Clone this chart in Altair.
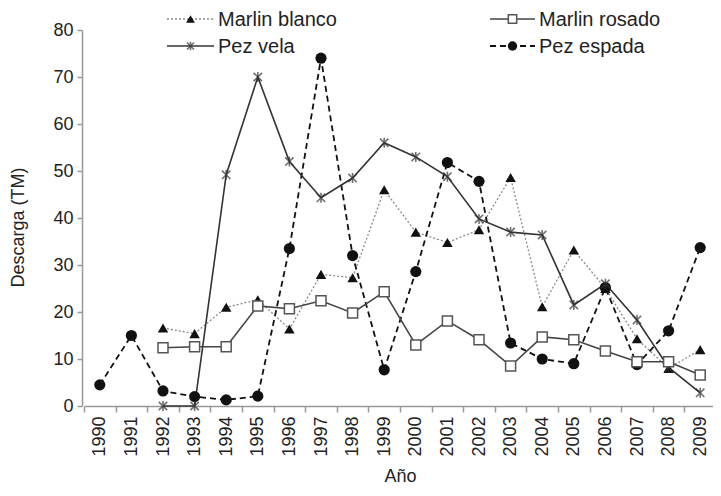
import altair as alt
import pandas as pd

years = [str(y) for y in range(1990, 2010)]

marlin_blanco = [None, None, 16.6, 15.4, 21.0, 22.6, 16.4, 28.0, 27.3, 46.0,
                 37.0, 34.8, 37.5, 48.6, 21.1, 33.2, 25.0, 14.3, 8.0, 12.0]
marlin_rosado = [None, None, 12.4, 12.6, 12.6, 21.3, 20.7, 22.4, 19.8, 24.3,
                 13.0, 18.1, 14.1, 8.5, 14.7, 14.1, 11.7, 9.4, 9.4, 6.6]
pez_vela = [None, None, 0.0, 0.0, 49.2, 70.0, 52.0, 44.3, 48.5, 56.0,
            53.0, 48.8, 39.8, 37.0, 36.4, 21.5, 26.0, 18.3, 8.2, 2.8]
pez_espada = [4.5, 15.0, 3.2, 2.0, 1.3, 2.1, 33.5, 74.0, 32.0, 7.7,
              28.6, 51.8, 47.8, 13.4, 10.0, 9.0, 25.2, 8.8, 16.0, 33.7]

series_names = ["Marlin blanco", "Marlin rosado", "Pez vela", "Pez espada"]
series_values = [marlin_blanco, marlin_rosado, pez_vela, pez_espada]

rows = []
for name, vals in zip(series_names, series_values):
    for y, v in zip(years, vals):
        if v is not None:
            rows.append({"year": y, "value": v, "series": name})
df = pd.DataFrame(rows)

FONT = "Liberation Sans"
ASTER = "M -1 -1 L 1 1 M 1 -1 L -1 1 M 0 -1.2 L 0 1.2"

styles = {
    "Marlin blanco": dict(line=dict(color="#8a8a8a", strokeWidth=1.3, strokeDash=[2, 2]),
                          point=dict(shape="triangle-up", filled=True, color="#111", size=110, opacity=1)),
    "Marlin rosado": dict(line=dict(color="#444", strokeWidth=1.6),
                          point=dict(shape="square", filled=True, fill="white", stroke="#555",
                                     strokeWidth=1.5, size=100, opacity=1)),
    "Pez vela": dict(line=dict(color="#333", strokeWidth=1.6),
                     point=dict(shape=ASTER, filled=False, color="#333", strokeWidth=1.6, size=70)),
    "Pez espada": dict(line=dict(color="#111", strokeWidth=1.8, strokeDash=[6, 4]),
                       point=dict(shape="circle", filled=True, color="#111", size=125, opacity=1)),
}

RANGE_W = 632

xenc = alt.X(
    "year:O",
    bandPosition=0.5,
    scale=alt.Scale(type="band", range=[0, RANGE_W], paddingInner=0, paddingOuter=0),
    axis=alt.Axis(
        title="Año", tickBand="extent", labelAngle=-90, labelFontSize=18, labelFont=FONT,
        labelColor="#222", labelPadding=4, domainColor="#999", tickColor="#999",
        domainWidth=1.5, tickWidth=1.5, tickSize=6, titleFont=FONT, titleFontSize=18,
        titleFontWeight="normal", titleColor="#222", titleX=RANGE_W / 2, titleY=70,
        titleBaseline="middle", titleAlign="center",
    ),
)
yenc = alt.Y(
    "value:Q",
    scale=alt.Scale(domain=[0, 80], nice=False),
    axis=alt.Axis(
        title="Descarga (TM)", values=list(range(0, 81, 10)), grid=False, offset=2,
        labelFontSize=18, labelFont=FONT, labelColor="#222", labelPadding=4,
        domainColor="#999", tickColor="#999", domainWidth=1.5, tickWidth=1.5, tickSize=5,
        titleFont=FONT, titleFontSize=18, titleFontWeight="normal", titleColor="#222",
        titleX=-64, titleY=197, titleAngle=-90, titleBaseline="middle", titleAlign="center",
    ),
)

base = alt.Chart(df)
layers = []
order = ["Marlin blanco", "Pez espada", "Pez vela", "Marlin rosado"]
for name in order:
    st = styles[name]
    layers.append(
        base.transform_filter(alt.datum.series == name)
        .mark_line(**st["line"]).encode(x=xenc, y=yenc)
    )
for name in order:
    st = styles[name]
    layers.append(
        base.transform_filter(alt.datum.series == name)
        .mark_point(**st["point"]).encode(x=xenc, y=yenc)
    )

# legend (layout positions in pixels relative to the plot area)
legend_layout = {
    "Marlin blanco": (83, 130, -11),
    "Pez vela": (83, 130, 16),
    "Marlin rosado": (406, 451, -11),
    "Pez espada": (406, 451, 16),
}
for name in series_names:
    x1, x2, yy = legend_layout[name]
    st = styles[name]
    ldf = pd.DataFrame({"label": [name]})
    lc = alt.Chart(ldf)
    layers.append(lc.mark_rule(**st["line"]).encode(
        x=alt.value(x1), x2=alt.value(x2), y=alt.value(yy)))
    pt = dict(st["point"])
    pt["size"] = pt["size"] * 0.7
    layers.append(lc.mark_point(**pt).encode(
        x=alt.value((x1 + x2) / 2), y=alt.value(yy)))
    layers.append(lc.mark_text(align="left", baseline="middle", font=FONT, fontSize=20,
                               color="#222").encode(
        x=alt.value(x2 + 4), y=alt.value(yy + 1), text="label:N"))

chart = alt.layer(*layers).properties(
    width=629, height=376,
    autosize=alt.AutoSizeParams(type="none"),
    padding={"left": 76, "top": 22, "right": 0, "bottom": 82},
).configure_view(stroke=None)

chart.save("out.html", embed_options={"renderer": "svg", "actions": False})
